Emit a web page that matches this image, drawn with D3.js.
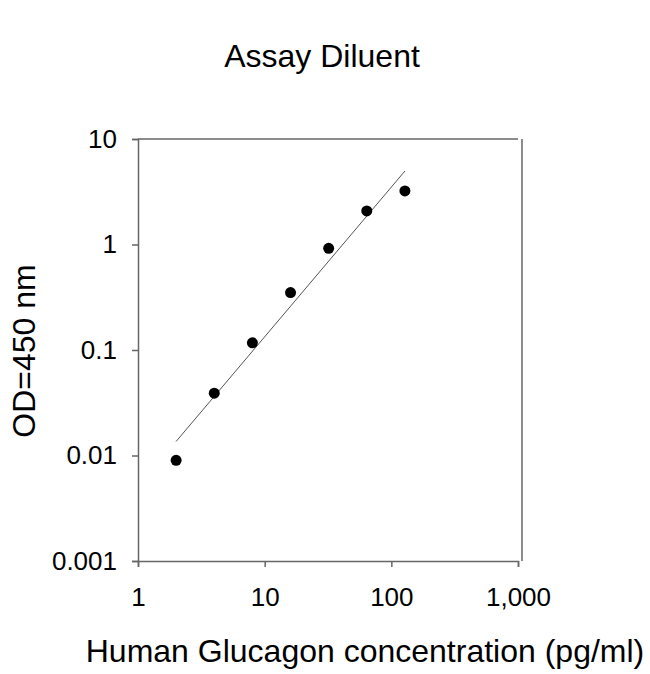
<!DOCTYPE html>
<html>
<head>
<meta charset="utf-8">
<script src="https://cdn.jsdelivr.net/npm/d3@7"></script>
<style>
  body { margin: 0; background: #fff; }
  text { font-family: "Liberation Sans", Arial, sans-serif; fill: #000; }
</style>
</head>
<body>
<script>
// standards: concentration (pg/ml) and OD at 450 nm
var conc = [2, 4, 8, 16, 32, 64, 128];
var od = [0.009, 0.039, 0.117, 0.35, 0.92, 2.08, 3.22];

// regression line end points
var fitX = [2, 128];
var fitY = [0.0136, 4.97];

var xTicks = [1, 10, 100, 1000];
var xTickLabels = ["1", "10", "100", "1,000"];
var yTicks = [0.001, 0.01, 0.1, 1, 10];
var yTickLabels = ["0.001", "0.01", "0.1", "1", "10"];

var outerWidth = 650;
var outerHeight = 674;

var margin = {top: 139, right: 132, bottom: 113, left: 138},
    width = outerWidth - margin.left - margin.right,
    height = outerHeight - margin.top - margin.bottom;

var x = d3.scaleLog()
    .domain([1, 1000])
    .range([0, width]);

var y = d3.scaleLog()
    .domain([0.001, 10])
    .range([height, 0]);

var svg = d3.select("body").append("svg")
    .attr("width", outerWidth)
    .attr("height", outerHeight);

// title
svg.append("text")
    .attr("x", 322)
    .attr("y", 67)
    .attr("text-anchor", "middle")
    .style("font-size", "32px")
    .text("Assay Diluent");

var g = svg.append("g")
    .attr("transform", `translate(${margin.left},${margin.top})`);

// frame: top and right
g.append("line")
    .attr("x1", 0).attr("x2", width)
    .attr("y1", 0).attr("y2", 0)
    .attr("stroke", "#666").attr("stroke-width", 1.5);
g.append("line")
    .attr("x1", width + 4).attr("x2", width + 4)
    .attr("y1", 0).attr("y2", height)
    .attr("stroke", "#666").attr("stroke-width", 1.5);

// x axis
var xAxis = g.append("g")
    .attr("transform", "translate(0," + height + ")")
    .call(d3.axisBottom(x)
        .tickValues(xTicks)
        .tickSize(6)
        .tickPadding(21)
        .tickFormat(function(d, i) { return xTickLabels[i]; }));

// y axis
var yAxis = g.append("g")
    .call(d3.axisLeft(y)
        .tickValues(yTicks)
        .tickSize(6)
        .tickPadding(15)
        .tickFormat(function(d, i) { return yTickLabels[i]; }));

[xAxis, yAxis].forEach(function(a) {
  a.select(".domain").attr("stroke", "#666").attr("stroke-width", 1.5);
  a.selectAll(".tick line").attr("stroke", "#666").attr("stroke-width", 1.5);
  a.selectAll(".tick text")
      .style("font-size", "26px")
      .style("font-family", "'Liberation Sans', Arial, sans-serif")
      .attr("fill", "#000");
});

// fit line
g.append("line")
    .attr("x1", x(fitX[0])).attr("y1", y(fitY[0]))
    .attr("x2", x(fitX[1])).attr("y2", y(fitY[1]))
    .attr("stroke", "#555")
    .attr("stroke-width", 1);

// points
g.selectAll(".dot")
    .data(conc)
  .enter().append("circle")
    .attr("class", "dot")
    .attr("cx", function(d) { return x(d); })
    .attr("cy", function(d, i) { return y(od[i]); })
    .attr("r", 5.5)
    .attr("fill", "#000");

// axis titles
svg.append("text")
    .attr("x", 365)
    .attr("y", 662)
    .attr("text-anchor", "middle")
    .style("font-size", "32px")
    .text("Human Glucagon concentration (pg/ml)");

svg.append("text")
    .attr("transform", "translate(35,351) rotate(-90)")
    .attr("text-anchor", "middle")
    .style("font-size", "32px")
    .text("OD=450 nm");
</script>
</body>
</html>
